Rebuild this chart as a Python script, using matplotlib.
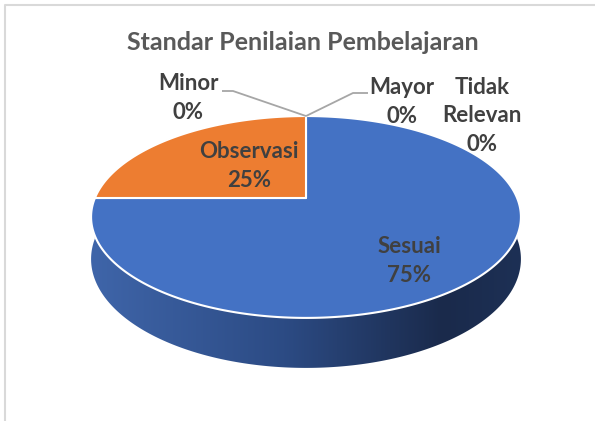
import numpy as np
import matplotlib
matplotlib.use("Agg")
import matplotlib.pyplot as plt
from matplotlib.patches import Polygon
from matplotlib.colors import LinearSegmentedColormap

# ---- data ----
title = "Standar Penilaian Pembelajaran"
categories = ["Sesuai", "Observasi", "Minor", "Mayor", "Tidak\nRelevan"]
values = [75, 25, 0, 0, 0]
slice_colors = ["#4472C4", "#ED7D31", "#A5A5A5", "#FFC000", "#5B9BD5"]

# ---- layout / style ----
W, H = 595, 421
cx, cy = 306.0, 198.0      # pie centre on screen (px)
A, B, D = 1123.0, 518.0, 5.32   # perspective projection params
DEPTH = 216.0
label_font = "Lato"
label_color = "#404040"

fig = plt.figure(figsize=(W / 100, H / 100), dpi=100)
ax = fig.add_axes([0, 0, 1, 1])
ax.set_xlim(0, W)
ax.set_ylim(H, 0)
ax.axis("off")


def proj(theta_deg, bottom=False):
    t = np.radians(theta_deg)
    u = np.sin(t)
    v = -np.cos(t)
    den = D - v
    x = cx + A * u / den
    y = cy + B * v / den
    if bottom:
        y = y + DEPTH / den
    return x, y


# side (front half of cylinder) with horizontal gradient
th = np.linspace(90, 270, 200)
tx, ty = proj(th)
bx, by = proj(th[::-1], bottom=True)
side_pts = np.column_stack([np.concatenate([tx, bx]), np.concatenate([ty, by])])
side = Polygon(side_pts, closed=True, facecolor="none", edgecolor="none")
ax.add_patch(side)
cmap = LinearSegmentedColormap.from_list(
    "side", [(0.0, "#3F65A9"), (0.45, "#2C4B84"), (0.82, "#1A2A4B"), (1.0, "#1D3055")])
grad = np.linspace(0, 1, 256).reshape(1, -1)
xmin, xmax = side_pts[:, 0].min(), side_pts[:, 0].max()
ymin, ymax = side_pts[:, 1].min(), side_pts[:, 1].max()
im = ax.imshow(grad, cmap=cmap, extent=[xmin, xmax, ymax, ymin], aspect="auto",
               interpolation="bicubic", zorder=1)
im.set_clip_path(side)

# top face slices
total = sum(values)
start = 0.0
for val, col in zip(values, slice_colors):
    span = 360.0 * val / total
    if span > 0:
        angs = np.linspace(start, start + span, max(int(span), 2) * 2)
        px, py = proj(angs)
        pts = np.column_stack([np.concatenate([[cx], px]), np.concatenate([[cy], py])])
        ax.add_patch(Polygon(pts, closed=True, facecolor=col, edgecolor="white",
                             linewidth=1.5, joinstyle="round", zorder=2))
    start += span

# labels
pcts = [f"{round(100 * v / total)}%" for v in values]
label_pos = [(409, 261), (249, 166), (188, 98), (402, 102), (482, 116)]
for cat, pct, (lx, ly) in zip(categories, pcts, label_pos):
    ax.text(lx, ly, f"{cat}\n{pct}", ha="center", va="center", multialignment="center",
            fontsize=16, fontweight="bold", family=label_font, color=label_color,
            linespacing=1.45, zorder=5)

# leader lines for the zero slices
top_x, top_y = proj(0.0)
ax.plot([222, 233, top_x], [91, 91, top_y], color="#A6A6A6", lw=1.3, zorder=4,
        solid_capstyle="butt")
ax.plot([top_x, 353, 368], [top_y, 93, 93], color="#A6A6A6", lw=1.3, zorder=4,
        solid_capstyle="butt")

# title
ax.text(303, 43, title, ha="center", va="center", fontsize=18, fontweight="bold",
        family=label_font, color="#595959")

# chart frame (top and left visible)
ax.plot([5, 5, W], [H, 4.5, 4.5], color="#D9D9D9", lw=1.5, zorder=6)

fig.savefig("out.png", dpi=100)
